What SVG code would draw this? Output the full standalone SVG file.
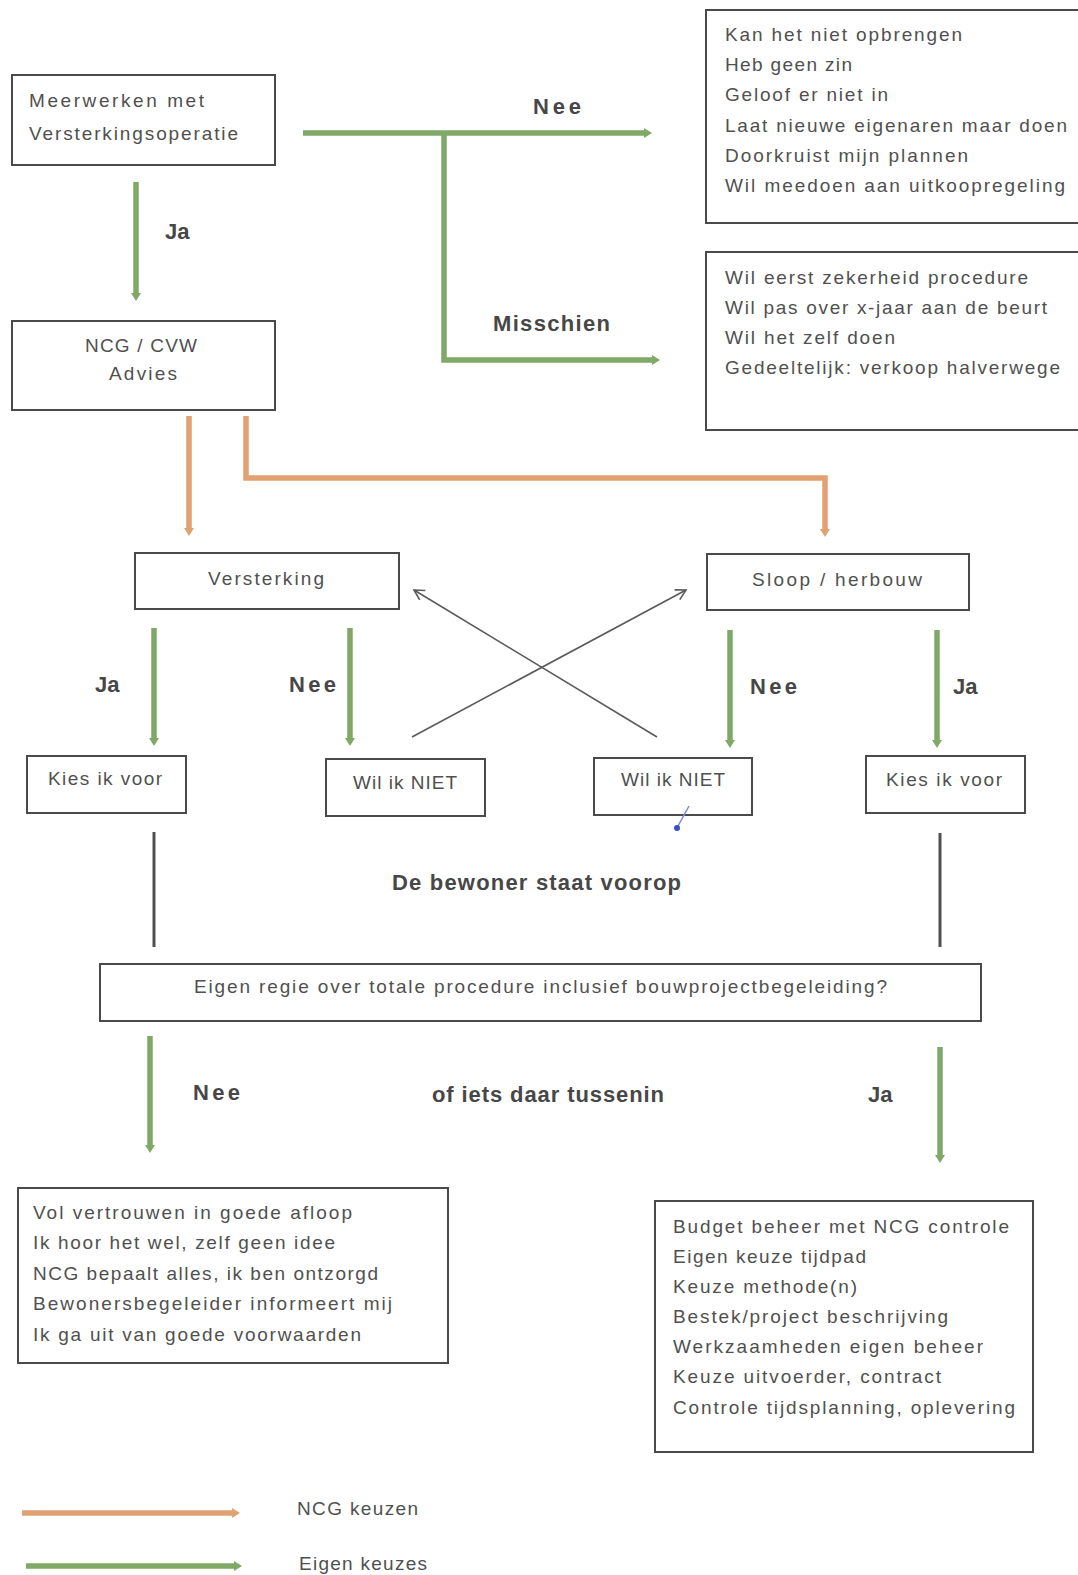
<svg xmlns="http://www.w3.org/2000/svg" width="1078" height="1575" viewBox="0 0 1078 1575">
<style>
  .box { fill: #ffffff; stroke: #4a4a4a; stroke-width: 2; }
  .t { font-family: "Liberation Sans", Arial, sans-serif; font-size: 19px; fill: #505050; }
  .b { font-family: "Liberation Sans", Arial, sans-serif; font-size: 22px; font-weight: bold; fill: #474747; }
  .g { fill: none; stroke: #80a867; stroke-width: 5.5; }
  .o { fill: none; stroke: #e1a172; stroke-width: 5.5; }
  .x { fill: none; stroke: #5a5a5a; stroke-width: 1.6; }
  .d { fill: none; stroke: #505050; stroke-width: 3; }
</style>
<defs>
  <marker id="ag" viewBox="0 0 8 10" refX="2" refY="5" markerWidth="8" markerHeight="10" markerUnits="userSpaceOnUse" orient="auto">
    <path d="M0,0 L8,5 L0,10 z" fill="#80a867"/>
  </marker>
  <marker id="ao" viewBox="0 0 8 10" refX="2" refY="5" markerWidth="8" markerHeight="10" markerUnits="userSpaceOnUse" orient="auto">
    <path d="M0,0 L8,5 L0,10 z" fill="#e1a172"/>
  </marker>
  <marker id="ax" viewBox="-1 -1 13 13" refX="10" refY="5.5" markerWidth="13" markerHeight="13" markerUnits="userSpaceOnUse" orient="auto">
    <path d="M0,0 L10,5.5 L0,11" fill="none" stroke="#5a5a5a" stroke-width="1.6"/>
  </marker>
</defs>
<rect width="1078" height="1575" fill="#ffffff"/>

<g id="connectors">
  <path id="c-ja1" class="g" d="M136,182 V295" marker-end="url(#ag)"/>
  <path id="c-nee1" class="g" d="M303,133 H646" marker-end="url(#ag)"/>
  <path id="c-misschien" class="g" d="M444,133 V360 H654" marker-end="url(#ag)"/>
  <path id="c-ncg-versterking" class="o" d="M189,416 V530" marker-end="url(#ao)"/>
  <path id="c-ncg-sloop" class="o" d="M246,416 V478 H825 V531" marker-end="url(#ao)"/>
  <path id="c-v-ja" class="g" d="M154,628 V740" marker-end="url(#ag)"/>
  <path id="c-v-nee" class="g" d="M350,628 V740" marker-end="url(#ag)"/>
  <path id="c-s-nee" class="g" d="M730,630 V742" marker-end="url(#ag)"/>
  <path id="c-s-ja" class="g" d="M937,630 V742" marker-end="url(#ag)"/>
  <path id="c-cross1" class="x" d="M412,737 L686,590" marker-end="url(#ax)"/>
  <path id="c-cross2" class="x" d="M657,737 L414,590" marker-end="url(#ax)"/>
  <path id="c-kies-l" class="d" d="M154,832 V947"/>
  <path id="c-kies-r" class="d" d="M940,833 V947"/>
  <path id="c-regie-nee" class="g" d="M150,1036 V1147" marker-end="url(#ag)"/>
  <path id="c-regie-ja" class="g" d="M940,1047 V1157" marker-end="url(#ag)"/>
  <path id="legend-ncg" class="o" d="M22,1513 H234" marker-end="url(#ao)"/>
  <path id="legend-eigen" class="g" d="M26,1566 H236" marker-end="url(#ag)"/>
</g>

<g id="n-meerwerken">
  <rect class="box" x="12" y="75" width="263" height="90"/>
  <text class="t" x="29" y="107" textLength="175">Meerwerken met</text>
  <text class="t" x="29" y="140" textLength="209">Versterkingsoperatie</text>
</g>

<g id="n-nee-redenen">
  <rect class="box" x="706" y="10" width="392" height="213"/>
  <text class="t" x="725" y="41" textLength="237">Kan het niet opbrengen</text>
  <text class="t" x="725" y="71" textLength="127">Heb geen zin</text>
  <text class="t" x="725" y="101" textLength="163">Geloof er niet in</text>
  <text class="t" x="725" y="132" textLength="342">Laat nieuwe eigenaren maar doen</text>
  <text class="t" x="725" y="162" textLength="243">Doorkruist mijn plannen</text>
  <text class="t" x="725" y="192" textLength="340">Wil meedoen aan uitkoopregeling</text>
</g>

<g id="n-misschien-redenen">
  <rect class="box" x="706" y="252" width="392" height="178"/>
  <text class="t" x="725" y="284" textLength="303">Wil eerst zekerheid procedure</text>
  <text class="t" x="725" y="314" textLength="322">Wil pas over x-jaar aan de beurt</text>
  <text class="t" x="725" y="344" textLength="170">Wil het zelf doen</text>
  <text class="t" x="725" y="374" textLength="335">Gedeeltelijk: verkoop halverwege</text>
</g>

<g id="n-ncg-advies">
  <rect class="box" x="12" y="321" width="263" height="89"/>
  <text class="t" x="85" y="352" textLength="112">NCG / CVW</text>
  <text class="t" x="109" y="380" textLength="68">Advies</text>
</g>

<g id="n-versterking">
  <rect class="box" x="135" y="553" width="264" height="56"/>
  <text class="t" x="208" y="585" textLength="116">Versterking</text>
</g>

<g id="n-sloop">
  <rect class="box" x="707" y="554" width="262" height="56"/>
  <text class="t" x="752" y="586" textLength="170">Sloop / herbouw</text>
</g>

<g id="n-kies-links">
  <rect class="box" x="27" y="756" width="159" height="57"/>
  <text class="t" x="48" y="785" textLength="114">Kies ik voor</text>
</g>

<g id="n-wil-niet-links">
  <rect class="box" x="326" y="759" width="159" height="57"/>
  <text class="t" x="353" y="789" textLength="104">Wil ik NIET</text>
</g>

<g id="n-wil-niet-rechts">
  <rect class="box" x="594" y="758" width="158" height="57"/>
  <text class="t" x="621" y="786" textLength="104">Wil ik NIET</text>
</g>

<g id="n-kies-rechts">
  <rect class="box" x="866" y="756" width="159" height="57"/>
  <text class="t" x="886" y="786" textLength="116">Kies ik voor</text>
</g>

<g id="n-eigen-regie">
  <rect class="box" x="100" y="964" width="881" height="57"/>
  <text class="t" x="194" y="993" textLength="693">Eigen regie over totale procedure inclusief bouwprojectbegeleiding?</text>
</g>

<g id="n-nee-resultaat">
  <rect class="box" x="18" y="1188" width="430" height="175"/>
  <text class="t" x="33" y="1219" textLength="319">Vol vertrouwen in goede afloop</text>
  <text class="t" x="33" y="1249" textLength="302">Ik hoor het wel, zelf geen idee</text>
  <text class="t" x="33" y="1280" textLength="345">NCG bepaalt alles, ik ben ontzorgd</text>
  <text class="t" x="33" y="1310" textLength="359">Bewonersbegeleider informeert mij</text>
  <text class="t" x="33" y="1341" textLength="328">Ik ga uit van goede voorwaarden</text>
</g>

<g id="n-ja-resultaat">
  <rect class="box" x="655" y="1201" width="378" height="251"/>
  <text class="t" x="673" y="1233" textLength="336">Budget beheer met NCG controle</text>
  <text class="t" x="673" y="1263" textLength="193">Eigen keuze tijdpad</text>
  <text class="t" x="673" y="1293" textLength="184">Keuze methode(n)</text>
  <text class="t" x="673" y="1323" textLength="275">Bestek/project beschrijving</text>
  <text class="t" x="673" y="1353" textLength="310">Werkzaamheden eigen beheer</text>
  <text class="t" x="673" y="1383" textLength="268">Keuze uitvoerder, contract</text>
  <text class="t" x="673" y="1414" textLength="342">Controle tijdsplanning, oplevering</text>
</g>

<g id="labels">
  <text class="b" x="533" y="114" textLength="48">Nee</text>
  <text class="b" x="493" y="331" textLength="117">Misschien</text>
  <text class="b" x="165" y="239">Ja</text>
  <text class="b" x="95" y="692">Ja</text>
  <text class="b" x="289" y="692" textLength="47">Nee</text>
  <text class="b" x="750" y="694" textLength="47">Nee</text>
  <text class="b" x="953" y="694">Ja</text>
  <text class="b" x="392" y="890" textLength="289">De bewoner staat voorop</text>
  <text class="b" x="193" y="1100" textLength="47">Nee</text>
  <text class="b" x="432" y="1102" textLength="232">of iets daar tussenin</text>
  <text class="b" x="868" y="1102">Ja</text>
</g>

<g id="legend">
  <text class="t" x="297" y="1515" textLength="121">NCG keuzen</text>
  <text class="t" x="299" y="1570" textLength="128">Eigen keuzes</text>
</g>

<g id="pen-mark">
  <path d="M689,806 L678,826" fill="none" stroke="#7a88e0" stroke-width="1.5"/>
  <circle cx="677" cy="828" r="3" fill="#3a4fd0"/>
</g>
</svg>
